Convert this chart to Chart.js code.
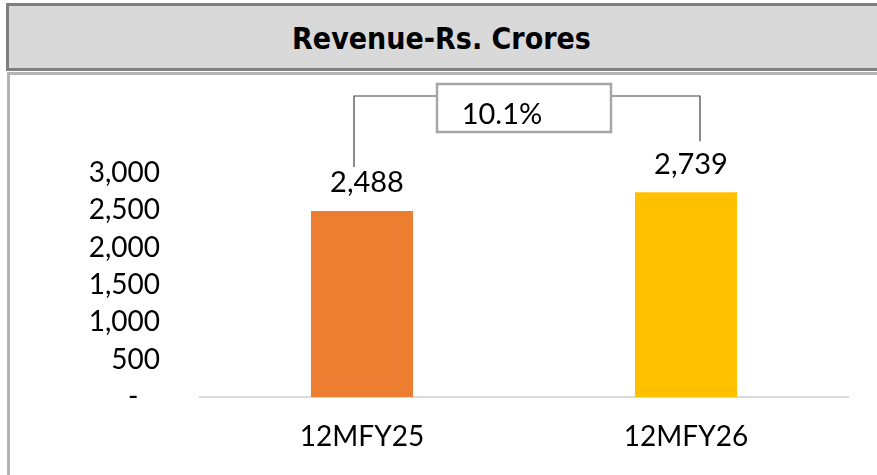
<!DOCTYPE html>
<html lang="en">
<head>
<meta charset="UTF-8">
<title>Revenue-Rs. Crores</title>
<script src="https://cdn.jsdelivr.net/npm/chart.js"></script>
<style>
  html, body { margin: 0; padding: 0; background: #ffffff; }
  body { width: 877px; height: 475px; position: relative; overflow: hidden; }
  .title-bar {
    position: absolute; left: 6px; top: 3px; width: 890px; height: 62px;
    background: #d9d9d9; border: 3px solid #7f7f7f;
    font-family: 'Liberation Sans Narrow', 'DejaVu Sans Condensed', 'Liberation Sans', sans-serif;
    font-weight: bold; font-size: 30px; color: #000;
    line-height: 66px;
  }
  .title-bar span { position: absolute; left: -6px; width: 877px; text-align: center; }
  .chart-box {
    position: absolute; left: 7px; top: 72px; width: 900px; height: 420px;
    border-left: 3px solid #b3b3b3; border-top: 3px solid #b3b3b3;
  }
  .chart-wrap { position: absolute; left: 10px; top: 75px; width: 867px; height: 400px; }
</style>
</head>
<body>
<div class="title-bar"><span>Revenue-Rs. Crores</span></div>
<div class="chart-box"></div>
<div class="chart-wrap"><canvas id="revChart"></canvas></div>
<script>
  // data
  const periods = ['12MFY25', '12MFY26'];
  const revenue = [2488, 2739];
  const barColors = ['#ED7D31', '#FFC000'];
  const growthLabel = '10.1%';
  const yTicksShown = [0, 500, 1000, 1500, 2000, 2500, 3000];

  const fontFamily = "Lato, 'Open Sans', sans-serif";

  const fmt = v => v.toLocaleString('en-US');

  // value labels above each bar
  const valueLabels = {
    id: 'valueLabels',
    afterDatasetsDraw(chart) {
      const ctx = chart.ctx;
      const meta = chart.getDatasetMeta(0);
      ctx.save();
      ctx.font = '29px ' + fontFamily;
      ctx.fillStyle = '#000';
      ctx.textAlign = 'center';
      ctx.textBaseline = 'middle';
      meta.data.forEach((bar, i) => {
        ctx.fillText(fmt(revenue[i]), bar.x + 5, bar.y - 28);
      });
      ctx.restore();
    }
  };

  // growth bracket with the percentage box
  const growthBracket = {
    id: 'growthBracket',
    afterDatasetsDraw(chart) {
      const ctx = chart.ctx;
      const meta = chart.getDatasetMeta(0);
      const a = meta.data[0], b = meta.data[1];
      const top = chart.chartArea.top - 2;
      const leftX = a.x - 8, rightX = b.x + 14;
      const midX = (a.x + b.x) / 2;
      const boxW = 174, boxH = 48;
      const boxTop = chart.chartArea.top - 14;
      ctx.save();
      ctx.strokeStyle = '#404040';
      ctx.lineWidth = 1.2;
      ctx.beginPath();
      ctx.moveTo(leftX, a.y - 44);
      ctx.lineTo(leftX, top);
      ctx.lineTo(midX - boxW / 2, top);
      ctx.moveTo(midX + boxW / 2, top);
      ctx.lineTo(rightX, top);
      ctx.lineTo(rightX, b.y - 51);
      ctx.stroke();
      ctx.fillStyle = '#ffffff';
      ctx.fillRect(midX - boxW / 2, boxTop, boxW, boxH);
      ctx.strokeStyle = '#a6a6a6';
      ctx.lineWidth = 2.5;
      ctx.strokeRect(midX - boxW / 2, boxTop, boxW, boxH);
      ctx.font = '29px ' + fontFamily;
      ctx.fillStyle = '#000';
      ctx.textAlign = 'center';
      ctx.textBaseline = 'middle';
      ctx.fillText(growthLabel, midX - 22, boxTop + 31);
      ctx.restore();
    }
  };

  new Chart(document.getElementById('revChart'), {
    type: 'bar',
    data: {
      labels: periods,
      datasets: [{
        data: revenue,
        backgroundColor: barColors,
        borderWidth: 0,
        barPercentage: 0.315,
        categoryPercentage: 1
      }]
    },
    options: {
      responsive: true,
      maintainAspectRatio: false,
      animation: false,
      layout: { padding: { top: 23, right: 29, bottom: 0, left: 0 } },
      plugins: {
        legend: { display: false },
        tooltip: { enabled: false }
      },
      scales: {
        x: {
          afterFit(axis) {
            axis.height = 78;
            axis.paddingLeft = 0;
            axis.paddingRight = 0;
          },
          grid: { display: false, drawTicks: false },
          border: { display: true, color: '#d9d9d9', width: 2 },
          ticks: {
            color: '#000',
            font: { family: fontFamily, size: 28 },
            padding: 23
          }
        },
        y: {
          min: 0,
          max: 4000,
          afterFit(axis) {
            axis.width = 190;
            axis.paddingTop = 0;
            axis.paddingBottom = 0;
          },
          afterBuildTicks(axis) {
            axis.ticks = axis.ticks.filter(t => yTicksShown.includes(t.value));
          },
          grid: { display: false, drawTicks: false },
          border: { display: false },
          ticks: {
            stepSize: 500,
            padding: 40,
            color: '#000',
            font: { family: fontFamily, size: 28 },
            callback: v => v === 0 ? '-\u00a0\u00a0\u00a0' : fmt(v)
          }
        }
      }
    },
    plugins: [valueLabels, growthBracket]
  });
</script>
</body>
</html>
